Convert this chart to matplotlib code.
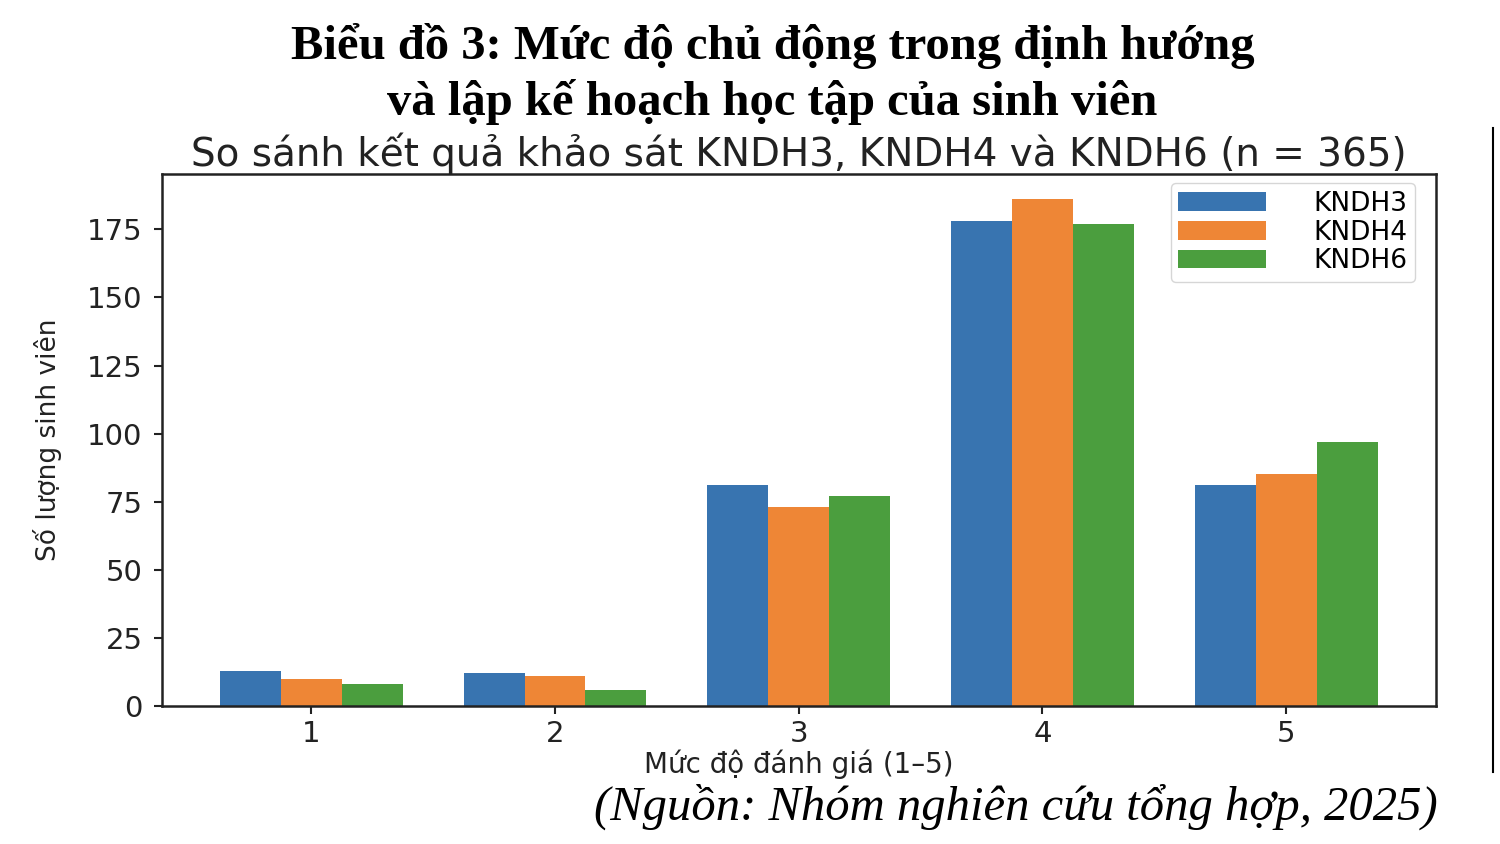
import numpy as np
import matplotlib
matplotlib.use("Agg")
import matplotlib.pyplot as plt
from matplotlib.lines import Line2D

# data (n = 365 per item)
levels = [1, 2, 3, 4, 5]
kndh3 = [13, 12, 81, 178, 81]
kndh4 = [10, 11, 73, 186, 85]
kndh6 = [8, 6, 77, 177, 97]
series_names = ["KNDH3", "KNDH4", "KNDH6"]
colors = ["#3874b0", "#ee8636", "#4b9e3e"]

fig = plt.figure(figsize=(15, 8.44), dpi=100)
ax = fig.add_axes([0.108, 0.1635, 0.849, 0.6303])

x = np.array(levels)
w = 0.25
for i, (vals, name) in enumerate(zip([kndh3, kndh4, kndh6], series_names)):
    ax.bar(x + (i - 1) * w, vals, width=w, color=colors[i], label=name)

ax.set_xticks(levels)
ax.set_xticklabels([str(v) for v in levels])
ax.tick_params(axis="both", labelsize=21, length=6, width=1.5, colors="#222222")
ax.tick_params(axis="y", pad=8)
ax.tick_params(axis="x", pad=4)
for s in ax.spines.values():
    s.set_linewidth(1.8)
    s.set_color("#222222")

ax.set_title("So sánh kết quả khảo sát KNDH3, KNDH4 và KNDH6 (n = 365)",
             fontsize=28, color="#222222", pad=4)
ax.set_xlabel("Mức độ đánh giá (1–5)", fontsize=20, color="#222222", labelpad=1)
ax.set_ylabel("Số lượng sinh viên", fontsize=19, color="#222222", labelpad=18)

leg = ax.legend(loc="upper right", fontsize=19, handlelength=3.3, handletextpad=1.8,
                borderpad=0.3, labelspacing=0.1, borderaxespad=0.2, frameon=True,
                bbox_to_anchor=(0.988, 0.993))
leg.get_frame().set_edgecolor("#cccccc")

# headline and source
fig.text(0.515, 0.946, "Biểu đồ 3: Mức độ chủ động trong định hướng",
         ha="center", va="center", fontsize=35, fontweight="bold",
         family="Liberation Serif")
fig.text(0.515, 0.879, "và lập kế hoạch học tập của sinh viên",
         ha="center", va="center", fontsize=35, fontweight="bold",
         family="Liberation Serif")
fig.text(0.677, 0.044, "(Nguồn: Nhóm nghiên cứu tổng hợp, 2025)",
         ha="center", va="center", fontsize=35, style="italic",
         family="Liberation Serif")

# thin border line on the right edge of the original picture
fig.add_artist(Line2D([0.9953, 0.9953], [0.085, 0.848], color="black", lw=1.5))

fig.savefig("out.png", dpi=100)
